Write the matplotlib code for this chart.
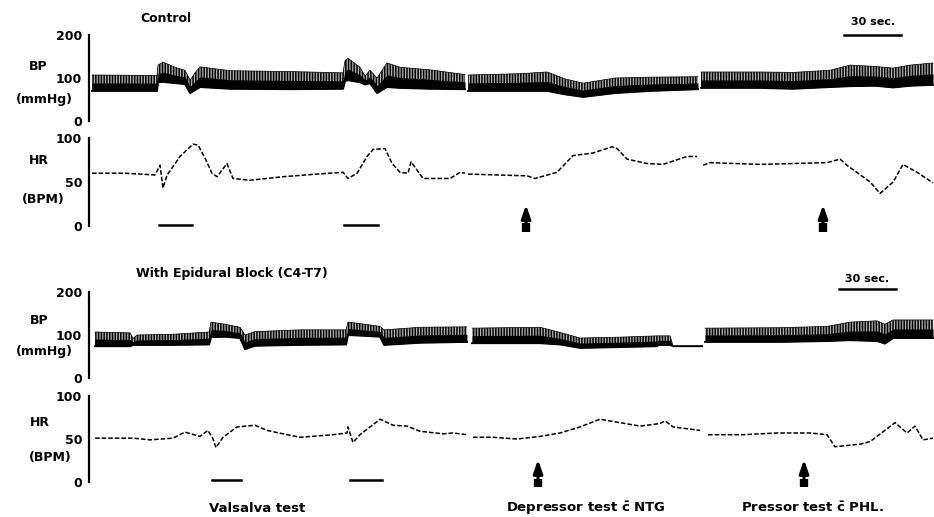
import matplotlib.pyplot as plt
import numpy as np

plt.rcParams['font.family'] = ['DejaVu Sans']
plt.rcParams['mathtext.fontset'] = 'dejavusans'
plt.rcParams['hatch.linewidth'] = 1.1

W, H = 934, 517
T_END = 444.7  # seconds covered by the chart strip

# --- Control: arterial pressure (mmHg), three recording segments ---
ctrl_bp_t = [
    [1.6, 35.8, 36.3, 38.9, 45.3, 50.5, 53.2, 55.8, 58.4, 74.2, 105.8,
     133.7, 134.7, 136.3, 142.6, 145.3, 147.9, 151.6, 156.8, 163.7, 179.5, 197.9],
    [199.5, 226.8, 241.1, 250.5, 260.0, 276.8, 295.3, 320.5],
    [322.1, 353.2, 370.5, 390.0, 400.5, 413.7, 423.2, 432.1, 444.2],
]
ctrl_sys = [
    [107, 106, 130, 137, 125, 118, 95, 112, 126, 117, 115,
     112, 140, 146, 125, 105, 118, 100, 135, 125, 119, 108],
    [107, 110, 114, 98, 88, 100, 102, 103],
    [114, 114, 113, 118, 130, 127, 123, 130, 135],
]
ctrl_dia = [
    [70, 70, 90, 91, 88, 86, 65, 72, 79, 75, 74,
     75, 93, 95, 90, 85, 88, 65, 79, 77, 75, 74],
    [70, 70, 70, 62, 56, 65, 70, 74],
    [77, 77, 75, 79, 81, 82, 78, 82, 84],
]

# --- Control: heart rate (BPM) ---
ctrl_hr_t = [
    [1.6, 18.9, 34.7, 37.4, 38.9, 41.1, 47.9, 54.7, 57.4, 61.1, 64.7, 67.4,
     72.6, 75.8, 84.7, 102.1, 120.0, 133.7, 136.3, 141.1, 146.3, 149.5,
     155.8, 159.5, 163.7, 167.9, 169.5, 175.8, 190.0, 195.3, 197.9],
    [199.5, 230.5, 234.7, 246.3, 254.7, 265.3, 275.3, 277.9, 283.2, 293.7,
     302.1, 314.7, 320.0],
    [323.2, 326.8, 353.2, 370.5, 388.4, 395.3, 398.9, 411.1, 416.3, 423.2,
     428.4, 435.8, 444.2],
]
ctrl_hr = [
    [60, 60, 58, 69, 43, 58, 79, 93, 92, 77, 60, 56,
     71, 54, 52, 56, 59, 61, 54, 60, 79, 87,
     88, 71, 61, 60, 73, 54, 54, 61, 60],
    [59, 57, 54, 61, 80, 83, 90, 88, 76, 71, 70, 79, 79],
    [69, 72, 70, 71, 72, 76, 69, 50, 37, 50, 70, 61, 49],
]

# --- Epidural block: arterial pressure (mmHg) ---
epi_bp_t = [
    [3.2, 21.6, 23.2, 25.3, 45.3, 63.2, 64.2, 71.6, 79.5, 82.1, 87.4,
     111.1, 135.3, 136.3, 145.3, 153.2, 155.3, 174.2, 198.9],
    [201.6, 237.4, 247.9, 258.4, 279.5, 298.9, 299.5, 305.8, 307.4, 322.6],
    [324.2, 363.7, 388.4, 400.5, 414.7, 418.9, 423.2, 444.2],
]
epi_sys = [
    [107, 105, 92, 100, 102, 107, 130, 125, 118, 100, 108,
     112, 112, 130, 125, 120, 112, 118, 119],
    [116, 118, 106, 93, 95, 98, 98, 98, 74, 74],
    [116, 117, 120, 130, 133, 125, 135, 135],
]
epi_dia = [
    [74, 74, 77, 77, 77, 78, 95, 96, 93, 67, 75,
     77, 78, 100, 98, 96, 77, 82, 84],
    [81, 81, 78, 70, 72, 74, 77, 77, 74, 74],
    [84, 84, 86, 88, 86, 80, 93, 93],
]

# --- Epidural block: heart rate (BPM) ---
epi_hr_t = [
    [3.2, 23.2, 32.1, 44.2, 50.5, 58.4, 62.6, 65.3, 66.8, 70.5, 77.9, 87.4,
     93.7, 102.1, 111.1, 128.4, 135.8, 136.3, 138.9, 142.6, 153.2, 160.0,
     167.4, 174.2, 186.3, 191.6, 198.9],
    [202.1, 212.6, 225.3, 237.4, 247.9, 258.4, 268.9, 279.5, 290.0, 300.5,
     303.2, 307.4, 321.6],
    [325.8, 344.2, 362.1, 379.5, 388.4, 392.6, 405.8, 411.1, 424.2, 430.5,
     434.7, 438.9, 444.2],
]
epi_hr = [
    [51, 51, 49, 51, 58, 53, 60, 50, 40, 52, 64, 66,
     60, 56, 52, 55, 57, 64, 46, 55, 73, 66,
     65, 59, 56, 57, 55],
    [52, 52, 50, 53, 57, 64, 73, 69, 65, 68, 71, 64, 60],
    [55, 55, 57, 57, 55, 41, 44, 47, 69, 57, 65, 49, 51],
]

# event marks (seconds)
ctrl_valsalva = [(36.8, 54.2), (134.2, 152.1)]
epi_valsalva = [(64.7, 80.0), (137.4, 154.2)]
ctrl_arrows = [230.0, 386.3]
epi_arrows = [236.3, 376.3]
ctrl_scale = 397.4
epi_scale = 394.7


def px_axes(top, bottom):
    return [89 / W, 1 - bottom / H, (W - 89) / W, (bottom - top) / H]


def style_axis(ax, ymax, ticks):
    ax.set_xlim(0, T_END)
    ax.set_ylim(0, ymax)
    for side in ('top', 'right', 'bottom'):
        ax.spines[side].set_visible(False)
    ax.spines['left'].set_linewidth(1.6)
    ax.set_xticks([])
    ax.set_yticks(ticks)
    ax.set_yticklabels([str(v) for v in ticks], fontsize=9, fontweight='bold')
    ax.tick_params(axis='y', length=0, pad=5)
    ax.patch.set_alpha(0)


def draw_bp(ax, times, sys, dia):
    for t, s, d in zip(times, sys, dia):
        t, s, d = np.asarray(t), np.asarray(s), np.asarray(d)
        half = d + (s - d) / 2
        ax.fill_between(t, d, s, facecolor='0.7', edgecolor='black',
                        hatch='||||||', lw=0)
        ax.fill_between(t, d, half, color='black', lw=0)
        ax.plot(t, s, color='black', lw=0.5)
        ax.plot(t, d, color='black', lw=1.4)


def draw_hr(ax, times, hr):
    for t, v in zip(times, hr):
        ax.plot(t, v, color='black', lw=1.1, ls=(0, (3, 1.3)))


def draw_arrow(ax, t, y0, y1):
    # upward arrow with a blocky tail
    ax.annotate('', xy=(t, y1), xytext=(t, y0 + 8),
                arrowprops=dict(arrowstyle='-|>,head_width=0.28,head_length=0.8',
                                lw=2.2, color='black', shrinkA=0, shrinkB=0),
                annotation_clip=False)
    ax.plot([t, t], [y0, y0 + 10], color='black', lw=6, solid_capstyle='butt',
            clip_on=False)


def draw_scale(ax, t0, y_bar, y_text):
    ax.plot([t0, t0 + 30], [y_bar, y_bar], color='black', lw=1.8, clip_on=False)
    ax.text(t0 + 15, y_text, '30 sec.', ha='center', va='center',
            fontsize=8, fontweight='bold', clip_on=False)


fig = plt.figure(figsize=(W / 100, H / 100), dpi=100)

ax1 = fig.add_axes(px_axes(35, 121))
ax2 = fig.add_axes(px_axes(138, 226))
ax3 = fig.add_axes(px_axes(292, 378))
ax4 = fig.add_axes(px_axes(396, 482))

style_axis(ax1, 200, [0, 100, 200])
style_axis(ax2, 100, [0, 50, 100])
style_axis(ax3, 200, [0, 100, 200])
style_axis(ax4, 100, [0, 50, 100])

draw_bp(ax1, ctrl_bp_t, ctrl_sys, ctrl_dia)
draw_hr(ax2, ctrl_hr_t, ctrl_hr)
draw_bp(ax3, epi_bp_t, epi_sys, epi_dia)
draw_hr(ax4, epi_hr_t, epi_hr)

for t0, t1 in ctrl_valsalva:
    ax2.plot([t0, t1], [1, 1], color='black', lw=1.8, clip_on=False)
for t0, t1 in epi_valsalva:
    ax4.plot([t0, t1], [2, 2], color='black', lw=1.8, clip_on=False)

for t in ctrl_arrows:
    draw_arrow(ax2, t, -7, 24)
for t in epi_arrows:
    draw_arrow(ax4, t, -6, 26)

draw_scale(ax1, ctrl_scale, 200, 230)
draw_scale(ax3, epi_scale, 207, 230)

lab = dict(ha='center', va='center', fontsize=9, fontweight='bold')
fig.text(38 / W, 1 - 66 / H, 'BP', **lab)
fig.text(44 / W, 1 - 100 / H, '(mmHg)', **lab)
fig.text(39 / W, 1 - 160 / H, 'HR', **lab)
fig.text(43 / W, 1 - 200 / H, '(BPM)', **lab)
fig.text(39 / W, 1 - 320 / H, 'BP', **lab)
fig.text(44 / W, 1 - 352 / H, '(mmHg)', **lab)
fig.text(40 / W, 1 - 422 / H, 'HR', **lab)
fig.text(50 / W, 1 - 457 / H, '(BPM)', **lab)

fig.text(140 / W, 1 - 19 / H, 'Control', ha='left', va='center',
         fontsize=9, fontweight='bold')
fig.text(136 / W, 1 - 273 / H, 'With Epidural Block (C4-T7)', ha='left',
         va='center', fontsize=9, fontweight='bold')

bottom = dict(ha='center', va='center', fontsize=9.5, fontweight='bold')
fig.text(257 / W, 1 - 509 / H, 'Valsalva test', **bottom)
fig.text(586 / W, 1 - 508 / H, r'Depressor test $\mathbf{\bar{c}}$ NTG', **bottom)
fig.text(812 / W, 1 - 508 / H, r'Pressor test $\mathbf{\bar{c}}$ PHL.', **bottom)

fig.savefig('out.png', dpi=100, facecolor='white')
